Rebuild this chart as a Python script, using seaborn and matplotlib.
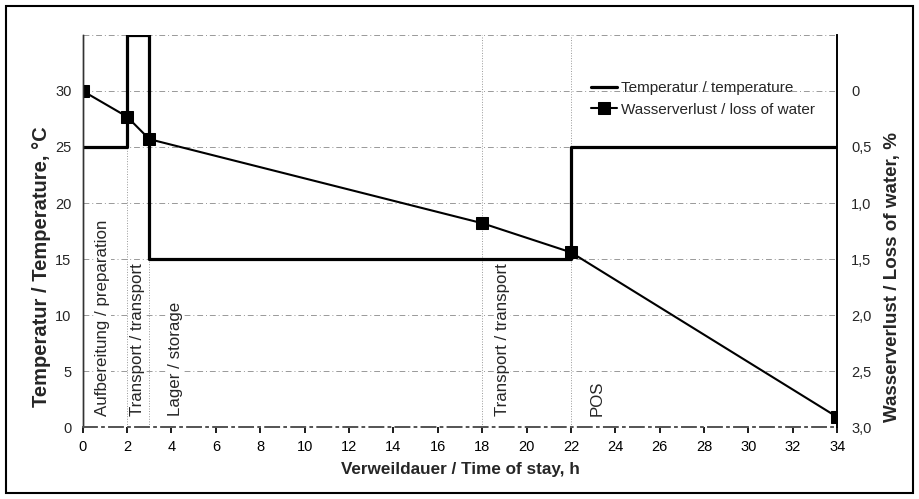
import numpy as np
import pandas as pd
import seaborn as sns
import matplotlib.pyplot as plt
from matplotlib.patches import Rectangle

# Temperature profile (step function, value holds until next time)
temp_time = [0, 2, 3, 22, 34]
temp_values = [25, 35, 15, 25, 25]

# Water loss measurements
loss_time = [0, 2, 3, 18, 22, 34]
loss_values = [0.0, 0.23, 0.43, 1.18, 1.44, 2.91]

# Phase labels
phase_labels = ["Aufbereitung / preparation", "Transport / transport", "Lager / storage",
                "Transport / transport", "POS"]
phase_x = [0.9, 2.45, 4.2, 18.9, 23.2]
phase_bounds = [2, 3, 18, 22]

x_ticks = list(range(0, 35, 2))
left_ticks = [0, 5, 10, 15, 20, 25, 30]
right_ticks = [0, 0.5, 1.0, 1.5, 2.0, 2.5, 3.0]

sns.set_theme(style="white")
plt.rcParams['font.family'] = ['Liberation Sans', 'DejaVu Sans']

fig = plt.figure(figsize=(9.19, 4.99), dpi=100)
ax = fig.add_axes([0.090, 0.144, 0.821, 0.786])
ax2 = ax.twinx()

temp_df = pd.DataFrame({"t": temp_time, "temp": temp_values})
loss_df = pd.DataFrame({"t": loss_time, "loss": loss_values})

# grid lines
for y in [5, 10, 15, 20, 25, 30, 35]:
    ax.axhline(y, color="#999999", lw=0.7, ls=(0, (6, 3, 1, 3)), zorder=0)
for x in phase_bounds:
    ax.axvline(x, color="#999999", lw=0.7, ls=":", zorder=0)

sns.lineplot(data=temp_df, x="t", y="temp", ax=ax, color="black", lw=2.3,
             drawstyle="steps-post", label="Temperatur / temperature", legend=False)
sns.lineplot(data=loss_df, x="t", y="loss", ax=ax2, color="black", lw=1.5,
             marker="s", markersize=8, markeredgecolor="black",
             label="Wasserverlust / loss of water", legend=False)

ax.set_xlim(0, 34)
ax.set_ylim(0, 35)
ax2.set_ylim(3.0, -0.5)

ax.set_xticks(x_ticks)
ax.set_yticks(left_ticks)
ax2.set_yticks(right_ticks)
ax2.set_yticklabels([("%.1f" % v).replace(".", ",") if v != 0 else "0" for v in right_ticks])

ax.tick_params(axis="x", direction="out", length=4, labelsize=10.5, bottom=True, colors="black", pad=5)
ax.tick_params(axis="y", length=0, labelsize=10.5, pad=8)
ax2.tick_params(axis="y", length=0, labelsize=10.5, pad=10)

for a in (ax, ax2):
    a.spines["top"].set_visible(False)
    a.spines["left"].set_color("#333333")
    a.spines["right"].set_color("black")
    a.spines["bottom"].set_color("#555555")
    a.spines["bottom"].set_linestyle((0, (8, 3, 1, 3)))
    a.spines["left"].set_linewidth(1.0)
    a.spines["right"].set_linewidth(1.2)

ax.set_xlabel("Verweildauer / Time of stay, h", fontsize=12.3, fontweight="bold", labelpad=6)
ax.set_ylabel("Temperatur / Temperature, °C", fontsize=14.5, fontweight="bold")
ax2.set_ylabel("Wasserverlust / Loss of water, %", fontsize=13.5, fontweight="bold")
ax.yaxis.set_label_coords(-0.042, 0.41)
ax2.yaxis.set_label_coords(1.062, 0.383)

for label, x in zip(phase_labels, phase_x):
    ax.text(x, 1.0, label, rotation=90, ha="center", va="bottom", fontsize=12.2,
            bbox=dict(facecolor="white", edgecolor="none", pad=0.5), zorder=3)

h1, l1 = ax.get_legend_handles_labels()
h2, l2 = ax2.get_legend_handles_labels()
ax2.legend(h1 + h2, l1 + l2, loc="upper right", bbox_to_anchor=(0.985, 0.91), frameon=False,
           fontsize=11, handlelength=1.7, handletextpad=0.3, borderaxespad=0.3, labelspacing=0.5)

# frame around the figure
fig.patches.append(Rectangle((0.006, 0.012), 0.988, 0.976, transform=fig.transFigure,
                             fill=False, edgecolor="black", lw=1.5))

fig.savefig("out.png", dpi=100)
